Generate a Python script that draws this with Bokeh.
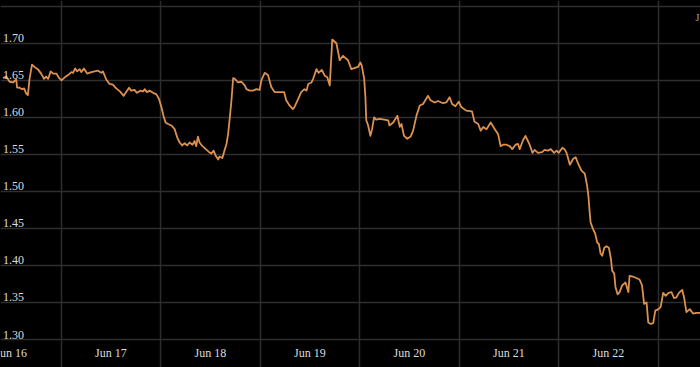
from bokeh.plotting import figure
from bokeh.models import ColumnDataSource, FixedTicker, Range1d
from bokeh.core.properties import value
from bokeh.embed import file_html
from bokeh.resources import INLINE

# hours since Jun 16 00:00
hours = [-2.0, -1.2, -0.4, 0.4, 1.2, 1.4, 2.0, 2.6, 3.1, 3.6, 4.0, 4.4, 5.0, 5.6, 6.4, 7.2, 7.9, 8.4, 8.9, 9.5,
         10.1, 10.9, 11.4, 12.1, 12.9, 13.7, 14.5, 14.9, 15.4, 15.9, 16.5, 16.9, 17.5, 18.3, 19.3, 20.1, 20.9, 21.7, 22.1, 22.9,
         23.7, 24.5, 25.3, 26.2, 27.1, 27.7, 28.4, 28.9, 29.7, 30.3, 31.1, 31.8, 32.2, 32.7, 33.4, 34.2, 35.0, 35.6, 36.2, 36.7,
         37.2, 37.8, 38.6, 39.4, 40.0, 40.6, 41.2, 41.8, 42.4, 43.0, 43.7, 44.2, 44.6, 45.0, 45.4, 46.1, 46.9, 47.7, 48.2, 48.8,
         49.3, 49.9, 50.2, 50.9, 51.4, 51.9, 52.3, 52.7, 53.1, 53.5, 53.9, 54.7, 55.5, 56.3, 56.7, 57.5, 58.3, 59.1, 59.9, 60.3,
         61.1, 61.9, 62.7, 63.5, 64.7, 65.8, 66.3, 67.1, 67.9, 68.3, 69.2, 69.9, 70.7, 71.2, 71.6, 72.4, 72.8, 73.6, 74.1, 74.9,
         75.6, 76.2, 76.8, 77.4, 78.4, 79.2, 80.0, 81.2, 82.0, 83.6, 84.2, 84.5, 85.1, 85.4, 85.6, 86.0, 86.6, 87.0, 87.5, 88.0,
         88.8, 90.0, 90.9, 91.2, 92.1, 93.1, 93.7, 94.1, 94.7, 95.5, 96.3, 96.9, 97.7, 98.5, 99.3, 100.5, 101.1, 102.1, 102.9, 104.1,
         104.9, 105.7, 106.3, 107.1, 107.9, 108.5, 109.7, 111.1, 111.7, 112.6, 113.2, 113.8, 114.6, 115.6, 116.6, 117.4, 118.0, 118.6, 119.4, 120.2,
         120.8, 121.6, 122.2, 122.6, 123.4, 124.0, 125.0, 125.7, 126.2, 127.0, 128.0, 128.6, 129.4, 130.1, 130.9, 131.5, 132.0, 132.9, 133.4, 133.9,
         134.7, 135.5, 136.1, 136.8, 137.5, 138.3, 138.9, 139.2, 139.5, 139.7, 140.3, 140.8, 141.3, 141.7, 142.1, 142.5, 143.0, 143.5, 144.1, 144.6,
         144.9, 145.4, 145.7, 146.2, 146.7, 147.3, 148.1, 148.6, 148.8, 149.1, 149.9, 150.7, 151.5, 152.1, 152.6, 153.2, 153.6, 154.2, 154.8, 155.3,
         156.1, 156.6, 157.2, 157.8, 158.5, 159.2, 159.8, 160.4, 161.0, 161.8, 162.3, 162.8, 163.6, 164.4, 165.2, 166.0, 166.9]
rate = [1.653, 1.655, 1.648, 1.647, 1.651, 1.640, 1.640, 1.638, 1.639, 1.632, 1.630, 1.652, 1.671, 1.668, 1.665, 1.659, 1.652, 1.655, 1.652, 1.662,
        1.659, 1.659, 1.654, 1.650, 1.654, 1.657, 1.661, 1.660, 1.666, 1.662, 1.665, 1.661, 1.666, 1.659, 1.661, 1.662, 1.663, 1.660, 1.662, 1.651,
        1.645, 1.644, 1.639, 1.635, 1.629, 1.634, 1.640, 1.636, 1.637, 1.633, 1.636, 1.635, 1.638, 1.634, 1.636, 1.633, 1.631, 1.625, 1.614, 1.602,
        1.593, 1.591, 1.589, 1.584, 1.573, 1.566, 1.562, 1.565, 1.562, 1.566, 1.563, 1.568, 1.561, 1.574, 1.566, 1.561, 1.557, 1.553, 1.551, 1.555,
        1.548, 1.543, 1.547, 1.545, 1.555, 1.564, 1.578, 1.600, 1.623, 1.653, 1.652, 1.647, 1.648, 1.643, 1.638, 1.636, 1.636, 1.638, 1.637, 1.650,
        1.660, 1.657, 1.641, 1.634, 1.634, 1.634, 1.623, 1.616, 1.611, 1.614, 1.625, 1.634, 1.638, 1.636, 1.645, 1.647, 1.652, 1.665, 1.660, 1.664,
        1.656, 1.654, 1.643, 1.705, 1.700, 1.677, 1.683, 1.677, 1.665, 1.668, 1.674, 1.670, 1.652, 1.627, 1.596, 1.590, 1.575, 1.584, 1.600, 1.597,
        1.598, 1.597, 1.596, 1.589, 1.593, 1.602, 1.587, 1.591, 1.575, 1.571, 1.574, 1.582, 1.602, 1.616, 1.618, 1.629, 1.623, 1.620, 1.622, 1.619,
        1.620, 1.627, 1.618, 1.615, 1.621, 1.614, 1.609, 1.608, 1.594, 1.591, 1.582, 1.587, 1.584, 1.593, 1.584, 1.577, 1.561, 1.563, 1.563, 1.561,
        1.557, 1.563, 1.564, 1.557, 1.569, 1.575, 1.563, 1.552, 1.556, 1.552, 1.553, 1.556, 1.555, 1.557, 1.552, 1.555, 1.552, 1.559, 1.557, 1.552,
        1.536, 1.544, 1.546, 1.536, 1.528, 1.524, 1.506, 1.492, 1.470, 1.458, 1.449, 1.443, 1.431, 1.429, 1.416, 1.413, 1.424, 1.426, 1.424, 1.409,
        1.393, 1.389, 1.371, 1.361, 1.364, 1.373, 1.377, 1.368, 1.364, 1.386, 1.385, 1.383, 1.381, 1.373, 1.348, 1.350, 1.323, 1.321, 1.322, 1.339,
        1.341, 1.344, 1.363, 1.359, 1.363, 1.364, 1.356, 1.357, 1.363, 1.367, 1.355, 1.337, 1.341, 1.335, 1.336, 1.336, 1.336]

day_ticks = [0, 24, 48, 72, 96, 120, 144]
day_labels = ["Jun 16", "Jun 17", "Jun 18", "Jun 19", "Jun 20", "Jun 21", "Jun 22"]
grid_x = [12, 36, 60, 84, 108, 132, 156]
y_ticks = [1.30, 1.35, 1.40, 1.45, 1.50, 1.55, 1.60, 1.65, 1.70, 1.75]
y_labels = ["1.30", "1.35", "1.40", "1.45", "1.50", "1.55", "1.60", "1.65", "1.70"]
corner_label = ["J"]

W, H = 700, 367
p = figure(width=W, height=H, output_backend="svg", toolbar_location=None,
           x_range=Range1d(-2.6, 166.2), y_range=Range1d(1.2622, 1.7577),
           x_axis_location=None, y_axis_location=None, min_border=0,
           background_fill_color="#000000", border_fill_color="#000000",
           outline_line_color=None)

p.xgrid.ticker = FixedTicker(ticks=grid_x)
p.ygrid.ticker = FixedTicker(ticks=y_ticks)
for g in (p.xgrid, p.ygrid):
    g.grid_line_color = "#2e2e2e"
    g.grid_line_width = 1.5

p.line(hours, rate, line_color="#dc9150", line_width=1.8, line_join="round")

font = value("Liberation Serif")
ysrc = ColumnDataSource(dict(x=[-2.0] * len(y_labels), y=y_ticks[:len(y_labels)], t=y_labels))
p.text("x", "y", "t", source=ysrc, text_font=font, text_font_size="12px",
       text_color="#dddddd", text_baseline="bottom", text_align="left", y_offset=-1)

xsrc = ColumnDataSource(dict(x=day_ticks, y=[1.2622] * len(day_ticks), t=day_labels))
p.text("x", "y", "t", source=xsrc, text_font=font, text_font_size="12px",
       text_color="#dddddd", text_baseline="middle", text_align="center", y_offset=-15)

csrc = ColumnDataSource(dict(x=[166.2], y=[1.7577], t=corner_label))
p.text("x", "y", "t", source=csrc, text_font=font, text_font_size="10px",
       text_color="#aaaaaa", text_baseline="top", text_align="left", x_offset=-5, y_offset=11)

html = file_html(p, INLINE)
html = html.replace("<head>", "<head><style>html,body{margin:0;padding:0;background:#000000;overflow:hidden;}</style>", 1)
open("out.html", "w").write(html)
